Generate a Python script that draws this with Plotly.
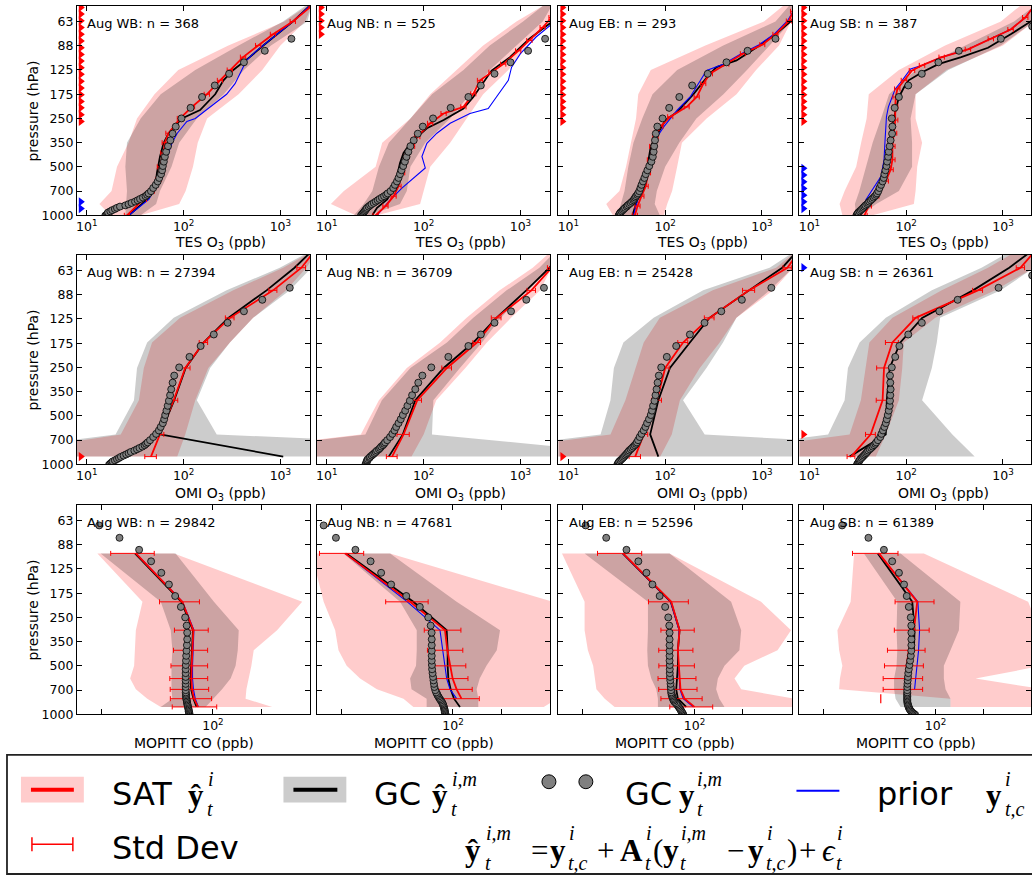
import math
import plotly.graph_objects as go

W, H = 1032, 882
SANS = "DejaVu Sans"
SERIF = "Liberation Serif"

# ---------------- data ----------------
REGIONS = ["WB", "NB", "EB", "SB"]
TES_N = [368, 525, 293, 387]
OMI_N = [27394, 36709, 25428, 26361]
MOP_N = [29842, 47681, 52596, 61389]

P_TICKS = [1000, 707.1, 500, 353.6, 250, 176.8, 125, 88.39, 62.5]
P_TICKTEXT = ["1000", "700", "500", "350", "250", "175", "125", "88", "63"]

# GEOS-Chem model level pressures (hPa) for the grey circles
GC_LEV = [1005, 990, 975, 960, 945, 929, 914, 899, 883, 868,
          853, 838, 822, 807, 792, 776, 761, 746, 731, 708,
          677, 647, 616, 586, 555, 525, 494, 464, 433, 403,
          372, 342, 311, 281, 250, 215, 184, 156, 132, 112,
          95, 80, 67, 57]

# ---- Row 1: TES O3 ----
TES_BAND_P = [1000, 850, 707, 500, 354, 250, 177, 125, 88, 62.5, 50]

TES_WB_SAT_LO = [17.5, 13.5, 18, 20.5, 27, 33, 50, 88, 290, 1100, 1900]
TES_WB_SAT_HI = [36, 90, 105, 125, 140, 175, 370, 650, 1000, 1800, 2100]
TES_WB_GC_LO = [25, 25.5, 26, 25, 26, 36, 58, 132, 370, 1065, 1800]
TES_WB_GC_HI = [36, 52, 57, 75, 90, 137, 260, 420, 800, 1900, 2100]
TES_WB_SAT_P = [1000, 796, 707, 600, 500, 410, 354, 309, 250, 212, 177, 145, 125, 104, 88, 75, 62.5, 50]
TES_WB_SAT = [26, 39, 47, 55, 57, 62, 64, 70, 92, 122, 174, 238, 301, 412, 590, 840, 1345, 2100]
TES_WB_SD = [1.6, 2.4, 3, 3.5, 3.6, 4, 4, 4.5, 6, 8, 11, 15, 19, 26, 37, 53, 85, 130]
TES_WB_GC_P = [1000, 796, 660, 545, 432, 357, 309, 250, 222, 177, 145, 125, 104, 88, 62.5, 50]
TES_WB_GC = [27.2, 42, 51, 53, 57, 62, 70, 96, 148, 212, 258, 326, 482, 665, 1345, 2000]
TES_WB_PRI_P = [1000, 796, 707, 600, 500, 410, 354, 309, 261, 250, 212, 177, 152, 139, 125, 109, 95, 88, 62.5, 50]
TES_WB_PRI = [27.2, 43.7, 49, 57, 62, 70, 76, 86, 108, 132, 188, 278, 340, 366, 396, 446, 565, 665, 1345, 2000]
TES_WB_MOD = [15.5, 16, 16.3, 16.6, 17.5, 18.3, 19.5, 20.5, 22, 25,
              27, 29, 31.5, 33.5, 35.5, 38, 40.4, 42, 43.5, 46,
              48.5, 51.5, 54, 56, 58.5, 60, 61, 62.5, 64, 66,
              69, 73, 77, 83, 95, 118, 155, 210, 295, 420,
              690, 1300, 2600, 4000]
TES_WB_TRI_RED = [261, 237, 215, 196, 178, 162, 147, 133, 121, 110, 100, 90.9, 82.5, 75, 68.1, 61.9, 56.2, 51.1]
TES_WB_TRI_BLUE = [908, 825]

TES_NB_SAT_LO = [19.8, 11, 15, 31.9, 37.3, 73, 117, 220, 412, 910, 1700]
TES_NB_SAT_HI = [33, 92, 100, 117, 188, 278, 412, 750, 1150, 2100, 2100]
TES_NB_GC_LO = [19, 24, 29.5, 34.5, 43.7, 73, 122, 258, 482, 1065, 1700]
TES_NB_GC_HI = [27.3, 57, 67, 73, 104, 188, 301, 482, 910, 1700, 2100]
TES_NB_SAT_P = [1000, 877, 761, 660, 545, 431, 373, 325, 268, 233, 212, 176, 145, 129, 115, 95, 82, 68, 59]
TES_NB_SAT = [31.9, 40.4, 49, 55, 60, 67, 76, 86, 117, 161, 258, 326, 383, 504, 665, 950, 1240, 1700, 2100]
TES_NB_SD = [2, 2.5, 3, 3.5, 3.8, 4.2, 4.8, 5.5, 7.5, 10, 16, 20, 24, 32, 42, 60, 78, 105, 130]
TES_NB_GC_P = [1000, 898, 797, 660, 545, 473, 410, 357, 325, 288, 256, 217, 184, 149, 126, 104, 80, 63]
TES_NB_GC = [29.5, 33, 42, 51, 54, 57, 62, 73, 86, 108, 161, 258, 326, 412, 504, 780, 1240, 2100]
TES_NB_PRI_P = [1000, 797, 675, 508, 431, 357, 309, 268, 233, 217, 184, 160, 145, 120, 99, 78, 65]
TES_NB_PRI = [33, 45.6, 60, 104, 96, 108, 137, 188, 301, 465, 565, 665, 750, 810, 1000, 1450, 2100]
TES_NB_MOD = [22.5, 23, 23.5, 24, 24.5, 25, 25.5, 26, 27, 28,
              29, 30.5, 32, 33.5, 35, 37, 39, 41, 42.5, 45.5,
              48.5, 50.5, 53, 55, 57, 59, 61.5, 64, 66.5, 69.5,
              73, 79, 87, 98, 125, 190, 290, 390, 540, 790,
              1200, 1800, 2600, 3500]
TES_NB_TRI_RED = [75, 68.1, 61.9, 56.2, 51.1]
TES_NB_TRI_BLUE = []

TES_EB_SAT_LO = [28.8, 24.6, 33.7, 39.4, 44.3, 50, 52.7, 71, 260, 1050, 1650]
TES_EB_SAT_HI = [97, 105, 118, 133, 149, 268, 546, 870, 1500, 2000, 2100]
TES_EB_GC_LO = [32.4, 35, 38, 41.6, 47, 58, 74, 133, 398, 1380, 1900]
TES_EB_GC_HI = [88, 78, 82, 100, 140, 210, 400, 700, 1200, 2000, 2100]
TES_EB_SAT_P = [1000, 877, 761, 660, 545, 452, 373, 325, 281, 244, 212, 184, 152, 132, 115, 99, 87, 75, 62, 54]
TES_EB_SAT = [48.7, 51.8, 56.9, 63, 66.6, 69.6, 73.6, 79.6, 89.4, 113, 167, 212, 248, 290, 429, 636, 1010, 1380, 1900, 2100]
TES_EB_SD = [3, 3.2, 3.5, 3.8, 4, 4.2, 4.5, 5, 5.5, 7, 10, 13, 15, 18, 26, 38, 60, 83, 115, 130]
TES_EB_GC_P = [1000, 761, 660, 431, 373, 325, 256, 228, 177, 152, 132, 120, 109, 91, 75, 60.5]
TES_EB_GC = [46, 52.7, 60.7, 68, 71, 80, 101, 133, 196, 239, 290, 340, 546, 870, 1380, 2100]
TES_EB_PRI_P = [1000, 877, 660, 545, 373, 325, 281, 222, 184, 145, 126, 115, 99, 87, 75, 62, 54]
TES_EB_PRI = [47.2, 49.7, 58.2, 64.5, 73.6, 82.7, 97, 133, 181, 229, 268, 398, 611, 937, 1330, 1830, 2100]
TES_EB_MOD = [33, 33.5, 34, 34.5, 35.5, 36.5, 37.5, 38.5, 40, 41,
              42.5, 44, 45.5, 47, 48, 49, 50, 51.5, 52.5, 54,
              55.5, 57, 59, 61, 63, 65.5, 68.5, 72, 74.5, 76,
              77, 78.5, 80, 83, 94, 110, 140, 190, 275, 430,
              710, 1380, 2500, 4000]
TES_EB_TRI_RED = [261, 237, 215, 196, 178, 162, 147, 133, 121, 110, 100, 90.9, 82.5, 75, 68.1, 61.9, 56.2, 51.1]
TES_EB_TRI_BLUE = []

TES_SB_SAT_LO = [21.9, 20.5, 23.1, 30.4, 34.2, 39, 41, 84, 252, 950, 1500]
TES_SB_SAT_HI = [45, 120, 125, 130, 146, 125, 125, 260, 1000, 2100, 2100]
TES_SB_GC_LO = [30.4, 29.5, 32.8, 38.5, 45, 55, 66.5, 125, 405, 1300, 2100]
TES_SB_GC_HI = [34, 49, 84, 115, 115, 111, 125, 272, 950, 2100, 2100]
TES_SB_SAT_P = [1000, 877, 761, 613, 521, 452, 373, 309, 256, 212, 184, 164, 145, 126, 117, 104, 93, 80, 70, 59, 50]
TES_SB_SAT = [37, 41, 49, 61.5, 69, 72, 72, 75, 77, 77, 78, 81, 95, 115, 146, 233, 435, 750, 1200, 1700, 2100]
TES_SB_SD = [2.5, 2.7, 3.2, 4, 4.5, 4.7, 4.7, 4.9, 5, 5, 5.1, 5.3, 6.2, 7.5, 9.5, 15, 28, 48, 78, 110, 130]
TES_SB_GC_P = [1000, 877, 761, 629, 496, 410, 340, 281, 222, 184, 160, 145, 129, 115, 104, 91, 75, 60.5]
TES_SB_GC = [34, 37, 44.3, 55, 64, 66.5, 67, 71, 78, 84, 95, 106, 146, 215, 370, 700, 1200, 2100]
TES_SB_PRI_P = [1000, 797, 572, 452, 340, 244, 212, 164, 145, 123, 117, 104, 93, 80, 70, 59, 50]
TES_SB_PRI = [34, 38.5, 55, 59, 60.5, 62.5, 65.5, 77, 91, 111, 146, 233, 435, 750, 1200, 1700, 2100]
TES_SB_MOD = [30.5, 31, 31.5, 32, 33, 34, 35, 36, 37, 38,
              39.5, 40.5, 41.5, 43, 44.5, 46, 47.5, 49, 50, 51.5,
              53, 55, 57, 58.5, 59.5, 61, 62.5, 63.5, 65, 66,
              67.5, 69, 71.5, 72, 71, 76, 84, 105, 145, 215,
              350, 950, 2000, 3500]
TES_SB_TRI_RED = [261, 237, 215, 196, 178, 162, 147, 133, 121, 110, 100, 90.9, 82.5, 75, 68.1, 61.9, 56.2, 51.1]
TES_SB_TRI_BLUE = [908, 825, 750, 681, 619, 562, 511]

# ---- Row 2: OMI O3 ----
OMI_P = [896, 652, 400, 252, 175, 123, 83, 60, 45]

OMI_WB_SAT_LO = [0.7, 22.4, 34.5, 38.8, 47.2, 92, 326, 1070, 2500]
OMI_WB_SAT_HI = [86, 104, 132, 180, 301, 523, 1150, 1850, 2600]
OMI_WB_GC_LO = [0.35, 19.8, 30.7, 33, 42, 79, 278, 985, 2400]
OMI_WB_GC_HI = [3e7, 220, 137, 188, 301, 523, 1250, 2100, 2600]
OMI_WB_SAT = [46, 57, 79, 104, 161, 301, 840, 1650, 2400]
OMI_WB_SD = [6.3, 5.5, 8, 12.5, 16, 31, 80, 170, 0]
OMI_WB_GC = [1070, 57, 80, 105, 161, 290, 720, 1400, 2300]
OMI_WB_MOD = [17, 17.5, 18, 18.5, 19.5, 20.5, 21.5, 22.5, 24, 25.5,
              27, 28.5, 31, 33, 35, 37.5, 39.5, 41, 42.5, 45,
              48.5, 52, 55.5, 58, 61, 63, 64.5, 66.5, 68.5, 70.5,
              72.5, 74.5, 77, 80, 90, 115, 150, 205, 285, 420,
              650, 1250, 2500, 4000]
OMI_WB_TRI_RED = [896]
OMI_WB_TRI_BLUE = []

OMI_NB_SAT_LO = [0.25, 22.4, 34.5, 67, 148, 278, 610, 1340, 2300]
OMI_NB_SAT_HI = [75, 100, 135, 270, 450, 800, 1600, 2100, 2500]
OMI_NB_GC_LO = [0.3, 25, 37, 73, 174, 326, 720, 1570, 2500]
OMI_NB_GC_HI = [28000, 122, 126, 237, 400, 630, 1140, 2100, 2500]
OMI_NB_SAT = [47.2, 62, 86, 174, 355, 565, 1300, 2100, 2800]
OMI_NB_SD = [6, 9, 9, 20, 32, 65, 130, 200, 0]
OMI_NB_GC = [43.6, 61, 82, 161, 326, 565, 1150, 2000, 2800]
OMI_NB_MOD = [25, 25.5, 25.5, 26, 26, 26.5, 27.5, 28, 29, 30,
              31, 32, 33, 34.5, 35.5, 36.5, 38, 39, 40, 42,
              45, 47.5, 50, 52, 55, 58, 61, 64.5, 68, 72,
              76, 82, 88, 97, 120, 180, 290, 390, 540, 800,
              1150, 1750, 2600, 3500]
OMI_NB_TRI_RED = []
OMI_NB_TRI_BLUE = []

OMI_EB_SAT_LO = [0.5, 27.2, 38.8, 49, 60, 88, 310, 1400, 2500]
OMI_EB_SAT_HI = [89, 117, 142, 228, 366, 545, 1300, 2100, 2500]
OMI_EB_GC_LO = [0.3, 21.5, 27.2, 29.5, 37, 76, 247, 1200, 2500]
OMI_EB_GC_HI = [3e6, 256, 153, 267, 396, 545, 1200, 2100, 2500]
OMI_EB_SAT = [49, 60, 82, 100, 153, 287, 735, 1830, 2600]
OMI_EB_SD = [6.6, 6, 9.5, 10, 18, 33, 105, 180, 0]
OMI_EB_GC = [85, 70, 85, 112, 180, 287, 735, 1620, 2500]
OMI_EB_MOD = [32, 32.5, 33, 33.5, 34.5, 35.5, 36.5, 37.5, 38.5, 39.5,
              40.5, 41.5, 42.5, 44, 45.5, 47, 48.5, 50, 51, 52.5,
              54.5, 57, 60, 62.5, 65, 68, 71, 73, 75, 77.5,
              79.5, 81.5, 83.5, 86, 91, 104, 130, 180, 255, 380,
              620, 1250, 2400, 3800]
OMI_EB_TRI_RED = [896]
OMI_EB_TRI_BLUE = []

OMI_SB_SAT_LO = [0.5, 26, 34, 38, 41.6, 72, 233, 700, 1600]
OMI_SB_SAT_HI = [48.6, 61.5, 84, 91, 94.5, 200, 830, 2100, 2500]
OMI_SB_GC_LO = [0.3, 15.6, 23.1, 25, 33, 61.5, 184, 600, 1400]
OMI_SB_GC_HI = [510, 300, 146, 184, 207, 224, 950, 2100, 2500]
OMI_SB_SAT = [27, 43, 57, 59, 72, 125, 550, 1520, 2300]
OMI_SB_SD = [2.5, 5, 8, 9.5, 11, 8, 65, 150, 0]
OMI_SB_GC = [26, 61.5, 63, 67.5, 87, 146, 490, 1160, 2200]
OMI_SB_MOD = [31, 31.5, 32, 32.5, 33, 33.5, 34.5, 35.5, 36.5, 37.5,
              38.5, 39.5, 40.5, 42, 43.5, 45, 46.5, 48, 49, 51,
              54, 55.5, 57.5, 59.5, 61.5, 63, 64.5, 66, 67.5, 68,
              68.5, 69, 68.5, 68, 71, 77, 85, 105, 145, 220,
              340, 900, 2000, 3500]
OMI_SB_TRI_RED = [652]
OMI_SB_TRI_BLUE = [60]

# ---- Row 3: MOPITT CO ----
MOP_P = [900, 800, 700, 600, 500, 400, 300, 200, 100]

MOP_WB_SAT_LO = [47.1, 38.8, 32.9, 30.3, 32.1, 32.4, 32.9, 36.2, 18.9]
MOP_WB_SAT_HI = [235, 160, 162, 168, 174, 180, 252, 362, 57.1]
MOP_WB_GC_LO = [47.1, 55.7, 55, 55, 55, 55.7, 54.4, 47.1, 19.8]
MOP_WB_GC_HI = [90, 101, 114, 129, 138.6, 143, 145, 101.4, 58.4]
MOP_WB_SAT = [80.6, 76.1, 74, 73.2, 73.6, 74.6, 75.4, 64.3, 32.9]
MOP_WB_SD = [25, 22, 20, 19.5, 19, 18, 18, 18, 10]
MOP_WB_GC = [79, 75.5, 73, 72.5, 73, 74, 75, 63.5, 32.5]
MOP_WB_PRI = [81, 77.5, 75.5, 74.5, 74.5, 75.5, 76, 64.5, 33]
MOP_WB_MOD = [71.5, 71, 71, 70.5, 70.5, 70.4, 70, 69.8, 69.5, 69.2,
              69, 68.8, 68.5, 68.3, 68, 67.8, 67.8, 67.7, 67.6, 67.5,
              67.5, 67.5, 67.5, 67.5, 67.5, 67.5, 67.6, 67.8, 68, 68.3,
              68.7, 69, 69, 68.5, 67, 63, 58, 53, 47.5, 41,
              34.5, 26, 19.4, 10]

MOP_NB_SAT_LO = [56.5, 49, 33.4, 26.2, 21.6, 19.2, 18.3, 15.5, 13]
MOP_NB_SAT_HI = [370, 450, 480, 500, 560, 600, 520, 420, 40.4]
MOP_NB_GC_LO = [68.4, 68.4, 55, 53.9, 58.7, 59.3, 59.3, 46.6, 20.6]
MOP_NB_GC_HI = [144, 144, 140.6, 147, 162, 188, 197, 105.4, 40.4]
MOP_NB_SAT = [None, 113, 105.4, 99.5, 95.8, 92.2, 89.1, 53.9, 21.1]
MOP_NB_SD = [None, 33, 26.5, 24.6, 24.5, 23, 23, 16, 6.5]
MOP_NB_GC = [110.6, 101.5, 96.7, 93.5, 92.6, 92.6, 91.3, 56.5, 21.5]
MOP_NB_PRI = [None, 105.4, 95.8, 91.3, 89.1, 86.2, 82.9, 51.8, 21.1]
MOP_NB_MOD = [90, 89.5, 89, 89, 88.5, 88.5, 88, 87.5, 87, 86.5,
              86, 85, 84, 83, 82, 81, 80, 79.5, 78.5, 77.5,
              76.5, 76, 75.5, 75, 74.5, 74, 73.8, 73.6, 73.6, 73.6,
              73.6, 73.6, 73.5, 72.5, 70, 62, 51, 41, 35.5, 30.5,
              24.5, 18.5, 15.5, 10]

MOP_EB_SAT_LO = [31.6, 27.4, 24.3, 23.7, 23.2, 21.5, 20.5, 20.5, 14.8]
MOP_EB_SAT_HI = [421, 421, 196, 178, 205, 331, 402, 261, 69.8]
MOP_EB_GC_LO = [59, 59, 57.6, 53.6, 51.1, 50.6, 51.1, 51.1, 20.5]
MOP_EB_GC_HI = [154, 143, 136.6, 140, 154, 191, 196, 169.5, 69.8]
MOP_EB_SAT = [100, 86.6, 81.7, 80.6, 79.8, 78.7, 80.6, 71.5, 35.7]
MOP_EB_SD = [30, 25, 22, 21.5, 20, 19, 19, 20, 11]
MOP_EB_GC = [88.7, 78.7, 76.8, 78, 78.7, 78.7, 80.6, 71, 35.5]
MOP_EB_PRI = [98, 85, 81, 80, 79.5, 79, 80, 71, 35.5]
MOP_EB_MOD = [85, 84.5, 83.5, 83, 82, 81.5, 80.5, 79.5, 78.5, 77.5,
              76.5, 75, 74, 73.5, 73, 72.5, 72, 71.8, 71.5, 71.3,
              71, 70.8, 70.5, 70.2, 70, 70, 70, 69.8, 69.8, 69.8,
              69.8, 69.8, 69.8, 69.5, 68.5, 65.5, 60.5, 54.5, 50, 44.5,
              37.5, 28, 20.8, 11]

MOP_SB_SAT_LO = [124, 124, 24.9, 25.2, 26.1, 24.9, 24.3, 29.4, 30.9]
MOP_SB_SAT_HI = [404, 480, 480, 178, 460, 480, 450, 380, 84.5]
MOP_SB_GC_LO = [60.4, 56.2, 55, 55, 57, 57.6, 57, 57.6, 35.6]
MOP_SB_GC_HI = [124, 124, 115.5, 112.7, 112.7, 124, 140, 143, 60.4]
MOP_SB_SAT = [None, None, 65, 65, 65.9, 68, 73.2, 76.8, 44.2]
MOP_SB_SD = [None, None, 18, 18, 18, 18, 18, 21, 14]
MOP_SB_GC = [69.1, 66.5, 65, 65, 67.2, 73.2, 73.9, 71.5, 43.5]
MOP_SB_PRI = [None, None, 73.9, 75, 76.1, 78.3, 79.4, 77.5, 44]
MOP_SB_EXTRA_P = [750, 930]
MOP_SB_EXTRA = [45.4, 45.4]
MOP_SB_MOD = [74.5, 73, 71.5, 70.5, 69.5, 68.8, 68.2, 67.8, 67.4, 67,
              66.8, 66.6, 66.5, 66.5, 66.5, 66.5, 66.5, 66.5, 66.5, 66.5,
              66.5, 66.7, 66.9, 67.2, 67.5, 68, 68.6, 69.3, 70, 70.5,
              70.6, 70.6, 70.6, 70.5, 70, 68, 66, 63.5, 59, 53.5,
              47.5, 38, 26, 11]

# ---------------- layout geometry ----------------
COL_X = [(76, 310), (316.5, 550.5), (558.5, 792.5), (800, 1032)]
ROW_Y = [(6, 217), (257, 468), (509, 720)]
REF_W = 234.0
XR = [(0.897, 3.31), (0.897, 3.31), (1.148, 2.61)]
XTITLE = ["TES O<sub>3</sub> (ppb)", "OMI O<sub>3</sub> (ppb)", "MOPITT CO (ppb)"]
XTITLE_Y = [245, 498, 749]
XTITLE_SHIFT = [27, 27, 0]
PINK = "rgba(255,0,0,0.2)"
GREYA = "rgba(0,0,0,0.2)"

fig = go.Figure()


def ax_names(n):
    return ("x" if n == 1 else f"x{n}"), ("y" if n == 1 else f"y{n}")


def clean(p, v, s=None):
    out_p, out_v, out_s = [], [], []
    for i, (pp, vv) in enumerate(zip(p, v)):
        if vv is None:
            continue
        out_p.append(pp)
        out_v.append(vv)
        if s is not None:
            out_s.append(s[i])
    return out_p, out_v, out_s


def add_panel(n, band_p, sat_lo, sat_hi, gc_lo, gc_hi,
              sat_p, sat, sd, gc_p, gc, pri_p, pri, mod,
              tri_red, tri_blue, xleft):
    xa, ya = ax_names(n)
    fig.add_trace(go.Scatter(x=list(sat_lo) + list(sat_hi)[::-1], y=list(band_p) + list(band_p)[::-1],
                             fill="toself", fillcolor=PINK, line=dict(width=0), mode="lines",
                             hoverinfo="skip", showlegend=False, xaxis=xa, yaxis=ya))
    fig.add_trace(go.Scatter(x=list(gc_lo) + list(gc_hi)[::-1], y=list(band_p) + list(band_p)[::-1],
                             fill="toself", fillcolor=GREYA, line=dict(width=0), mode="lines",
                             hoverinfo="skip", showlegend=False, xaxis=xa, yaxis=ya))
    gp, gv, _ = clean(gc_p, gc)
    fig.add_trace(go.Scatter(x=gv, y=gp, mode="lines", line=dict(color="black", width=1.8),
                             showlegend=False, xaxis=xa, yaxis=ya))
    if pri is not None:
        pp, pv, _ = clean(pri_p, pri)
        fig.add_trace(go.Scatter(x=pv, y=pp, mode="lines", line=dict(color="blue", width=1.1),
                                 showlegend=False, xaxis=xa, yaxis=ya))
    sp, sv, ss = clean(sat_p, sat, sd)
    fig.add_trace(go.Scatter(x=sv, y=sp, mode="lines", line=dict(color="red", width=1.8),
                             error_x=dict(type="data", array=ss, symmetric=True, color="red",
                                          thickness=1, width=2.5),
                             showlegend=False, xaxis=xa, yaxis=ya))
    fig.add_trace(go.Scatter(x=mod, y=GC_LEV, mode="markers",
                             marker=dict(size=7, color="#808080", line=dict(color="black", width=0.8)),
                             showlegend=False, xaxis=xa, yaxis=ya))
    for tri, col in ((tri_red, "red"), (tri_blue, "blue")):
        if tri:
            fig.add_trace(go.Scatter(x=[xleft] * len(tri), y=tri, mode="markers",
                                     marker=dict(symbol="triangle-right", size=8, color=col,
                                                 line=dict(width=0)),
                                     showlegend=False, xaxis=xa, yaxis=ya))


ROWS = [
    [
        (TES_BAND_P, TES_WB_SAT_LO, TES_WB_SAT_HI, TES_WB_GC_LO, TES_WB_GC_HI, TES_WB_SAT_P, TES_WB_SAT, TES_WB_SD,
         TES_WB_GC_P, TES_WB_GC, TES_WB_PRI_P, TES_WB_PRI, TES_WB_MOD, TES_WB_TRI_RED, TES_WB_TRI_BLUE),
        (TES_BAND_P, TES_NB_SAT_LO, TES_NB_SAT_HI, TES_NB_GC_LO, TES_NB_GC_HI, TES_NB_SAT_P, TES_NB_SAT, TES_NB_SD,
         TES_NB_GC_P, TES_NB_GC, TES_NB_PRI_P, TES_NB_PRI, TES_NB_MOD, TES_NB_TRI_RED, TES_NB_TRI_BLUE),
        (TES_BAND_P, TES_EB_SAT_LO, TES_EB_SAT_HI, TES_EB_GC_LO, TES_EB_GC_HI, TES_EB_SAT_P, TES_EB_SAT, TES_EB_SD,
         TES_EB_GC_P, TES_EB_GC, TES_EB_PRI_P, TES_EB_PRI, TES_EB_MOD, TES_EB_TRI_RED, TES_EB_TRI_BLUE),
        (TES_BAND_P, TES_SB_SAT_LO, TES_SB_SAT_HI, TES_SB_GC_LO, TES_SB_GC_HI, TES_SB_SAT_P, TES_SB_SAT, TES_SB_SD,
         TES_SB_GC_P, TES_SB_GC, TES_SB_PRI_P, TES_SB_PRI, TES_SB_MOD, TES_SB_TRI_RED, TES_SB_TRI_BLUE),
    ],
    [
        (OMI_P, OMI_WB_SAT_LO, OMI_WB_SAT_HI, OMI_WB_GC_LO, OMI_WB_GC_HI, OMI_P, OMI_WB_SAT, OMI_WB_SD,
         OMI_P, OMI_WB_GC, None, None, OMI_WB_MOD, OMI_WB_TRI_RED, OMI_WB_TRI_BLUE),
        (OMI_P, OMI_NB_SAT_LO, OMI_NB_SAT_HI, OMI_NB_GC_LO, OMI_NB_GC_HI, OMI_P, OMI_NB_SAT, OMI_NB_SD,
         OMI_P, OMI_NB_GC, None, None, OMI_NB_MOD, OMI_NB_TRI_RED, OMI_NB_TRI_BLUE),
        (OMI_P, OMI_EB_SAT_LO, OMI_EB_SAT_HI, OMI_EB_GC_LO, OMI_EB_GC_HI, OMI_P, OMI_EB_SAT, OMI_EB_SD,
         OMI_P, OMI_EB_GC, None, None, OMI_EB_MOD, OMI_EB_TRI_RED, OMI_EB_TRI_BLUE),
        (OMI_P, OMI_SB_SAT_LO, OMI_SB_SAT_HI, OMI_SB_GC_LO, OMI_SB_GC_HI, OMI_P, OMI_SB_SAT, OMI_SB_SD,
         OMI_P, OMI_SB_GC, None, None, OMI_SB_MOD, OMI_SB_TRI_RED, OMI_SB_TRI_BLUE),
    ],
    [
        (MOP_P, MOP_WB_SAT_LO, MOP_WB_SAT_HI, MOP_WB_GC_LO, MOP_WB_GC_HI, MOP_P, MOP_WB_SAT, MOP_WB_SD,
         MOP_P, MOP_WB_GC, MOP_P, MOP_WB_PRI, MOP_WB_MOD, [], []),
        (MOP_P, MOP_NB_SAT_LO, MOP_NB_SAT_HI, MOP_NB_GC_LO, MOP_NB_GC_HI, MOP_P, MOP_NB_SAT, MOP_NB_SD,
         MOP_P, MOP_NB_GC, MOP_P, MOP_NB_PRI, MOP_NB_MOD, [], []),
        (MOP_P, MOP_EB_SAT_LO, MOP_EB_SAT_HI, MOP_EB_GC_LO, MOP_EB_GC_HI, MOP_P, MOP_EB_SAT, MOP_EB_SD,
         MOP_P, MOP_EB_GC, MOP_P, MOP_EB_PRI, MOP_EB_MOD, [], []),
        (MOP_P, MOP_SB_SAT_LO, MOP_SB_SAT_HI, MOP_SB_GC_LO, MOP_SB_GC_HI, MOP_P, MOP_SB_SAT, MOP_SB_SD,
         MOP_P, MOP_SB_GC, MOP_P, MOP_SB_PRI, MOP_SB_MOD, [], []),
    ],
]
NS = [TES_N, OMI_N, MOP_N]

annotations = []
layout_axes = {}


def px(x):
    return x / W


def py(y):
    return 1 - y / H


for r in range(3):
    for c in range(4):
        n = r * 4 + c + 1
        xa, ya = ax_names(n)
        x0, x1 = COL_X[c]
        y0, y1 = ROW_Y[r]
        lo, hi = XR[r]
        right = lo + (hi - lo) * (x1 - x0) / REF_W
        xleft = 10 ** (lo + (hi - lo) * 4.0 / REF_W)
        add_panel(n, *ROWS[r][c][:13], ROWS[r][c][13], ROWS[r][c][14], xleft)
        if r == 2 and c == 3:
            fig.add_trace(go.Scatter(x=MOP_SB_EXTRA, y=MOP_SB_EXTRA_P, mode="lines",
                                     line=dict(color="red", width=1.2, dash="dash"),
                                     showlegend=False, xaxis=xa, yaxis=ya))
        if r < 2:
            tv, tt = [10, 100, 1000], ["10<sup>1</sup>", "10<sup>2</sup>", "10<sup>3</sup>"]
        else:
            tv, tt = [20, 100, 200], ["", "10<sup>2</sup>", ""]
        xkey = "xaxis" if n == 1 else f"xaxis{n}"
        ykey = "yaxis" if n == 1 else f"yaxis{n}"
        layout_axes[xkey] = dict(
            domain=[x0 / W, x1 / W], anchor=ya, type="log", range=[lo, right],
            showline=True, linecolor="black", linewidth=1, mirror="ticks",
            ticks="inside", ticklen=5, tickwidth=1, tickcolor="black",
            tickvals=tv, ticktext=tt, showgrid=False, zeroline=False,
            tickfont=dict(family=SANS, size=12.5, color="black"),
        )
        layout_axes[ykey] = dict(
            domain=[1 - y1 / H, 1 - y0 / H], anchor=xa, type="log",
            range=[3, math.log10(50)],
            showline=True, linecolor="black", linewidth=1, mirror="ticks",
            ticks="inside", ticklen=5, tickwidth=1, tickcolor="black",
            tickvals=P_TICKS, ticktext=P_TICKTEXT, showgrid=False, zeroline=False,
            showticklabels=(c == 0),
            tickfont=dict(family=SANS, size=12.5, color="black"),
        )
        annotations.append(dict(
            xref=f"{xa} domain", yref=f"{ya} domain", x=0.035, y=0.918,
            text=f"Aug {REGIONS[c]}: n = {NS[r][c]}", showarrow=False,
            xanchor="left", yanchor="middle", font=dict(family=SANS, size=13, color="black")))
        cx = (x0 + x0 + REF_W) / 2 + XTITLE_SHIFT[r]
        annotations.append(dict(x=px(cx), y=py(XTITLE_Y[r]), xref="paper", yref="paper",
                                text=XTITLE[r], showarrow=False, xanchor="center", yanchor="middle",
                                font=dict(family=SANS, size=14, color="black")))
        if c == 0:
            annotations.append(dict(x=px(32), y=py((y0 + y1) / 2), xref="paper", yref="paper",
                                    text="pressure (hPa)", showarrow=False, textangle=-90,
                                    xanchor="center", yanchor="middle",
                                    font=dict(family=SANS, size=14, color="black")))

# ---------------- legend box ----------------
shapes = []


def txt(x, y, s, size=32, family=SANS):
    annotations.append(dict(x=px(x), y=py(y), xref="paper", yref="paper", text=s, showarrow=False,
                            xanchor="left", yanchor="middle",
                            font=dict(family=family, size=size, color="black")))


shapes.append(dict(type="rect", xref="paper", yref="paper", x0=px(6), x1=px(1045), y0=py(881), y1=py(761),
                   line=dict(color="#222222", width=1.8), fillcolor="rgba(0,0,0,0)"))
shapes.append(dict(type="rect", xref="paper", yref="paper", x0=px(20), x1=px(83), y0=py(809), y1=py(783),
                   line=dict(width=0), fillcolor="rgb(255,204,204)"))
shapes.append(dict(type="line", xref="paper", yref="paper", x0=px(30), x1=px(73), y0=py(796), y1=py(796),
                   line=dict(color="red", width=4)))
shapes.append(dict(type="rect", xref="paper", yref="paper", x0=px(283), x1=px(346), y0=py(809), y1=py(783),
                   line=dict(width=0), fillcolor="rgb(204,204,204)"))
shapes.append(dict(type="line", xref="paper", yref="paper", x0=px(293), x1=px(337), y0=py(796), y1=py(796),
                   line=dict(color="black", width=4)))
for cx in (549, 586):
    shapes.append(dict(type="circle", xref="paper", yref="paper", x0=px(cx - 7), x1=px(cx + 7),
                       y0=py(788 + 7), y1=py(788 - 7), fillcolor="#808080",
                       line=dict(color="black", width=1)))
shapes.append(dict(type="line", xref="paper", yref="paper", x0=px(797), x1=px(840), y0=py(797), y1=py(797),
                   line=dict(color="blue", width=2)))
shapes.append(dict(type="line", xref="paper", yref="paper", x0=px(31), x1=px(72), y0=py(851), y1=py(851),
                   line=dict(color="red", width=1.5)))
for cx in (31, 72):
    shapes.append(dict(type="line", xref="paper", yref="paper", x0=px(cx), x1=px(cx), y0=py(858), y1=py(844),
                       line=dict(color="red", width=1.5)))

S_MAIN, S_SCR = 31, 20
R1_MAIN, R1_SUP, R1_SUB, R1_TXT = 802, 785, 815, 800
txt(109, R1_TXT, "SAT")
txt(185, R1_MAIN, "<b>ŷ</b>", S_MAIN, SERIF)
txt(205, R1_SUP, "<i>i</i>", S_SCR, SERIF)
txt(204, R1_SUB, "<i>t</i>", S_SCR, SERIF)

txt(372, R1_TXT, "GC")
txt(430, R1_MAIN, "<b>ŷ</b>", S_MAIN, SERIF)
txt(450, R1_SUP, "<i>i,m</i>", S_SCR, SERIF)
txt(449, R1_SUB, "<i>t</i>", S_SCR, SERIF)

txt(623, R1_TXT, "GC")
txt(677, R1_MAIN, "<b>y</b>", S_MAIN, SERIF)
txt(695, R1_SUP, "<i>i,m</i>", S_SCR, SERIF)
txt(695, R1_SUB, "<i>t</i>", S_SCR, SERIF)

txt(876, R1_TXT, "prior")
txt(985, R1_MAIN, "<b>y</b>", S_MAIN, SERIF)
txt(1004, R1_SUP, "<i>i</i>", S_SCR, SERIF)
txt(1004, R1_SUB, "<i>t,c</i>", S_SCR, SERIF)

R2_MAIN, R2_SUP, R2_SUB, R2_TXT = 857, 840, 870, 855
txt(109, R2_TXT, "Std Dev")
EQ = [
    (463, "<b>ŷ</b>", 20, "i,m", "t"),
    (529, "=", 0, None, None),
    (548, "<b>y</b>", 18, "i", "t,c"),
    (595, "+", 0, None, None),
    (618, "<b>A</b>", 25, "i", "t"),
    (651, "(<b>y</b>", 27, "i,m", "t"),
    (725, "−", 0, None, None),
    (746, "<b>y</b>", 18, "i", "t,c"),
    (786, ")", 0, None, None),
    (798, "+", 0, None, None),
    (821, "<i>ϵ</i>", 14, "i", "t"),
]
for x, s, w, sup, sub in EQ:
    txt(x, R2_MAIN, s, S_MAIN, SERIF)
    if sup:
        txt(x + w + 1, R2_SUP, f"<i>{sup}</i>", S_SCR, SERIF)
    if sub:
        txt(x + w, R2_SUB, f"<i>{sub}</i>", S_SCR, SERIF)

fig.update_layout(
    width=W, height=H, margin=dict(l=0, r=0, t=0, b=0),
    paper_bgcolor="white", plot_bgcolor="white",
    showlegend=False, annotations=annotations, shapes=shapes,
    font=dict(family=SANS, color="black"),
    **layout_axes,
)

fig.write_html("out.html", config={"displayModeBar": False},
               post_script="document.body.style.margin='0';document.body.style.overflow='hidden';")
